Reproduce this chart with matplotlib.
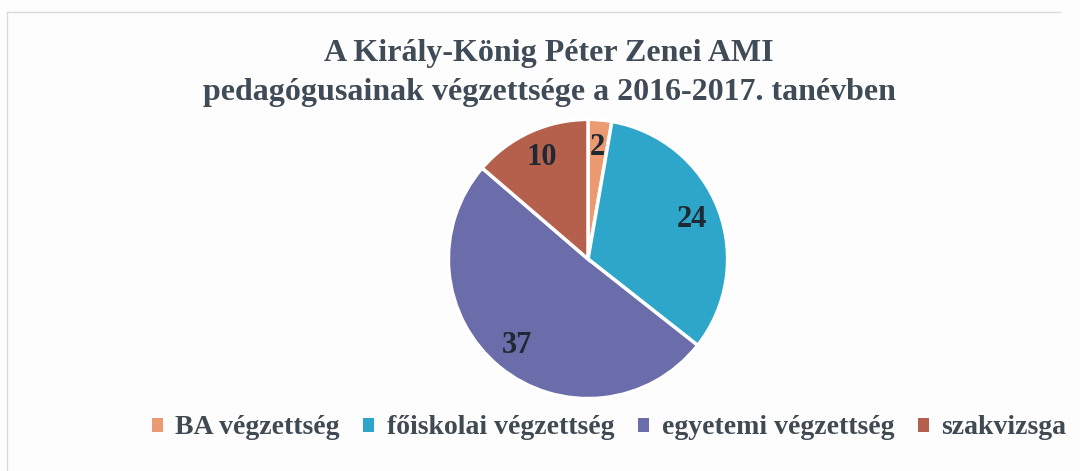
import matplotlib.pyplot as plt
from matplotlib.lines import Line2D

# Adatok
categories = ['BA végzettség', 'főiskolai végzettség', 'egyetemi végzettség', 'szakvizsga']
values = [2, 24, 37, 10]
colors = ['#ec9a72', '#2ea6c9', '#6b6daa', '#b4604c']

title = 'A Király-König Péter Zenei AMI\npedagógusainak végzettsége a 2016-2017. tanévben'

plt.rcParams['font.family'] = ['Liberation Serif', 'DejaVu Serif']

fig = plt.figure(figsize=(10.8, 4.71), dpi=100)
fig.patch.set_facecolor('#fdfdfe')

# halvány keret (szkennelt kép)
fig.add_artist(Line2D([7 / 1080, 1060 / 1080], [1 - 12 / 471, 1 - 12 / 471],
                      transform=fig.transFigure, color='#d8dce0', lw=1))
fig.add_artist(Line2D([7 / 1080, 7 / 1080], [0, 1 - 12 / 471],
                      transform=fig.transFigure, color='#d8dce0', lw=1))

fig.text(549 / 1080, 1 - 73 / 471, title, ha='center', va='center', fontsize=23,
         fontweight='bold', color='#3f4b56', linespacing=1.42)

# Kördiagram
r = 141
cx, cy = 588, 259
ax = fig.add_axes([(cx - r) / 1080, 1 - (cy + r) / 471, 2 * r / 1080, 2 * r / 471])
total = sum(values)
wedges, texts, autotexts = ax.pie(
    values, colors=colors, startangle=90, counterclock=False,
    autopct=lambda p: '%d' % round(p * total / 100), pctdistance=0.8,
    wedgeprops=dict(edgecolor='white', linewidth=2.5))
for t in autotexts:
    t.set_fontsize(22)
    t.set_fontweight('bold')
    t.set_color('#1e2a33')
ax.set_xlim(-1.01, 1.01)
ax.set_ylim(-1.01, 1.01)
ax.set_aspect('equal')

# Jelmagyarázat
leg = fig.legend(wedges, categories, loc='center', bbox_to_anchor=(609 / 1080, 1 - 428 / 471),
                 ncol=4, frameon=False, handlelength=0.4, handleheight=0.4,
                 handletextpad=0.45, columnspacing=0.85,
                 prop=dict(size=20, weight='bold'))
for t in leg.get_texts():
    t.set_color('#404a52')
for h in leg.legend_handles:
    h.set_edgecolor('none')

fig.savefig('out.png', dpi=100, facecolor=fig.get_facecolor())
